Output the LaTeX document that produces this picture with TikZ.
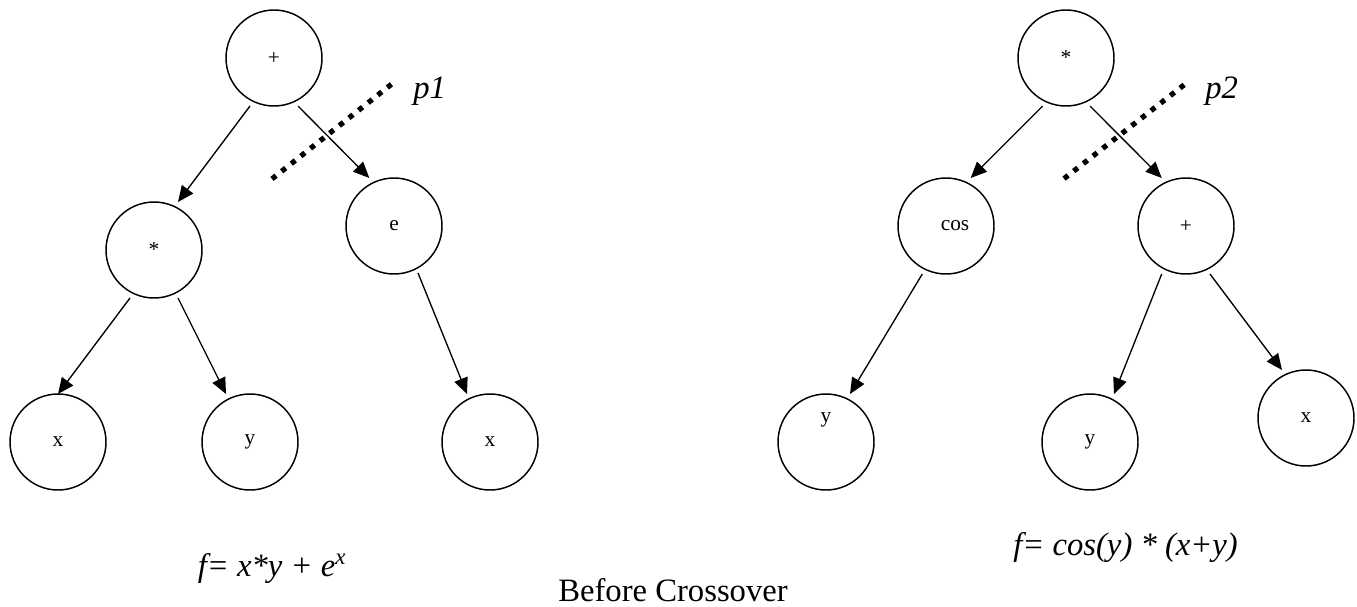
\documentclass[tikz,border=0pt]{standalone}
\usepackage{fontspec}
\setmainfont{Liberation Serif}
\usetikzlibrary{arrows.meta,calc}
\begin{document}
\begin{tikzpicture}[x=0.75pt,y=-0.75pt,
  circ/.style={circle,draw,line width=1.1pt,minimum size=72pt,inner sep=0pt,font=\fontsize{16}{19}\selectfont},
  lbl/.style={font=\fontsize{16}{19}\selectfont,inner sep=0pt},
  arr/.style={line width=1pt,-{Triangle[length=12pt,width=10.5pt]}},
  cut/.style={line width=3.9pt,dash pattern=on 3.9pt off 5.3pt},
  big/.style={font=\fontsize{24.5}{29}\selectfont,inner sep=0pt,anchor=base west}]
\useasboundingbox (0,0) rectangle (1357,607);

% left tree
\node[circ] (plus) at (274,58) {+};
\node[circ] (mul) at (154,250) {*};
\node[circ] (e) at (394,226) {e};
\node[circ] (x1) at (58,442) {x};
\node[circ] (y1) at (250,442) {y};
\node[circ] (x2) at (490,442) {x};

\draw[arr] ([shift={(-24,48)}]plus.center) -- ([shift={(24,-48)}]mul.center);
\draw[arr] ([shift={(24,48)}]plus.center) -- ([shift={(-24.7,-48)}]e.center);
\draw[arr] ([shift={(-24,48)}]mul.center) -- ([shift={(0,-48)}]x1.center);
\draw[arr] ([shift={(24,48)}]mul.center) -- ([shift={(-24,-48)}]y1.center);
\draw[arr] ([shift={(24,47)}]e.center) -- ([shift={(-23,-48)}]x2.center);

\coordinate (d1a) at (272,178.9);
\coordinate (d1b) at (392,83.8);
\draw[cut] (d1a) -- (d1b);
\node[big] (p1) at (413,98.3) {\textit{p1}};
\node[big] (f1) at (197.5,576.7) {\textit{f= x*y + e\textsuperscript{x}}};

% right tree
\node[circ] (mul2) at (1066,58) {*};
\node[circ,label={[lbl,xshift=6.75pt]center:cos}] (cos) at (946,226) {};
\node[circ] (plus2) at (1186,226) {+};
\node[circ,label={[lbl,yshift=16.5pt]center:y}] (y2) at (826,442) {};
\node[circ] (y3) at (1090,442) {y};
\node[circ] (x3) at (1306,418) {x};

\draw[arr] ([shift={(-23.3,48)}]mul2.center) -- ([shift={(24.7,-48)}]cos.center);
\draw[arr] ([shift={(24,48)}]mul2.center) -- ([shift={(-24.3,-48)}]plus2.center);
\draw[arr] ([shift={(-23.7,48)}]cos.center) -- ([shift={(24,-48)}]y2.center);
\draw[arr] ([shift={(-24.3,48)}]plus2.center) -- ([shift={(24,-48)}]y3.center);
\draw[arr] ([shift={(24,48)}]plus2.center) -- ([shift={(-24,-48)}]x3.center);

\coordinate (d2a) at (1064,178.6);
\coordinate (d2b) at (1184.7,84.4);
\draw[cut] (d2a) -- (d2b);
\node[big] (p2) at (1205,98) {\textit{p2}};
\node[big] (f2) at (1013,555) {\textit{f= cos(y) * (x+y)}};

\node[big] (cap) at (558,601.7) {Before Crossover};
\end{tikzpicture}
\end{document}
